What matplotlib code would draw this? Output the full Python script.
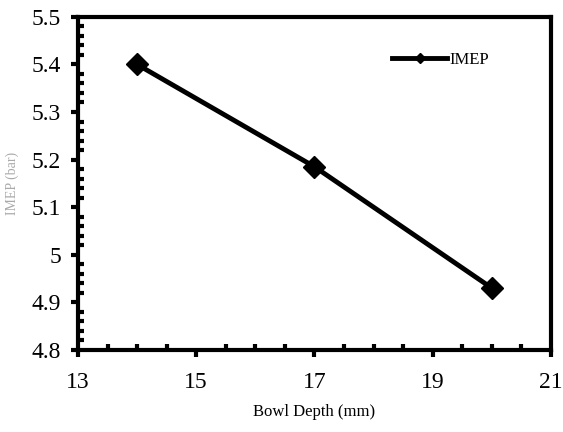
import matplotlib
matplotlib.use("Agg")
import matplotlib.pyplot as plt
from matplotlib.ticker import MultipleLocator

plt.rcParams['font.family'] = ['Liberation Serif', 'DejaVu Serif']

# bowl depth vs IMEP
depth = [14, 17, 20]
imep = [5.40, 5.185, 4.93]
xticks = [13, 15, 17, 19, 21]
yticks = [4.8, 4.9, 5.0, 5.1, 5.2, 5.3, 5.4, 5.5]
ylabels = ['4.8', '4.9', '5', '5.1', '5.2', '5.3', '5.4', '5.5']

fig = plt.figure(figsize=(5.63, 4.32), dpi=100)
ax = fig.add_axes([0.1385, 0.19, 0.840, 0.771])

ax.plot(depth, imep, color='black', linewidth=3.5, marker='D',
        markersize=11, label='IMEP')

ax.set_xlim(13, 21)
ax.set_ylim(4.8, 5.5)
ax.set_xticks(xticks)
ax.xaxis.set_minor_locator(MultipleLocator(0.5))
ax.set_yticks(yticks)
ax.set_yticklabels(ylabels)
ax.yaxis.set_minor_locator(MultipleLocator(0.02))

for s in ax.spines.values():
    s.set_linewidth(3)

ax.tick_params(which='major', direction='out', length=5, width=3,
               labelsize=17)
ax.tick_params(axis='x', which='major', pad=11)
ax.tick_params(axis='y', which='major', pad=7)
ax.tick_params(which='minor', direction='in', length=4, width=3)

ax.set_xlabel('Bowl Depth (mm)', fontsize=12, labelpad=8)

ax.set_ylabel('IMEP (bar)', fontsize=10, color='#aaaaaa')
ax.yaxis.set_label_coords(-0.125, 0.5)

ax.legend(loc='upper right', bbox_to_anchor=(0.90, 0.94), frameon=False,
          fontsize=12, handlelength=3.3, handletextpad=0.1, markerscale=0.5)

fig.savefig('out.png', dpi=100)
